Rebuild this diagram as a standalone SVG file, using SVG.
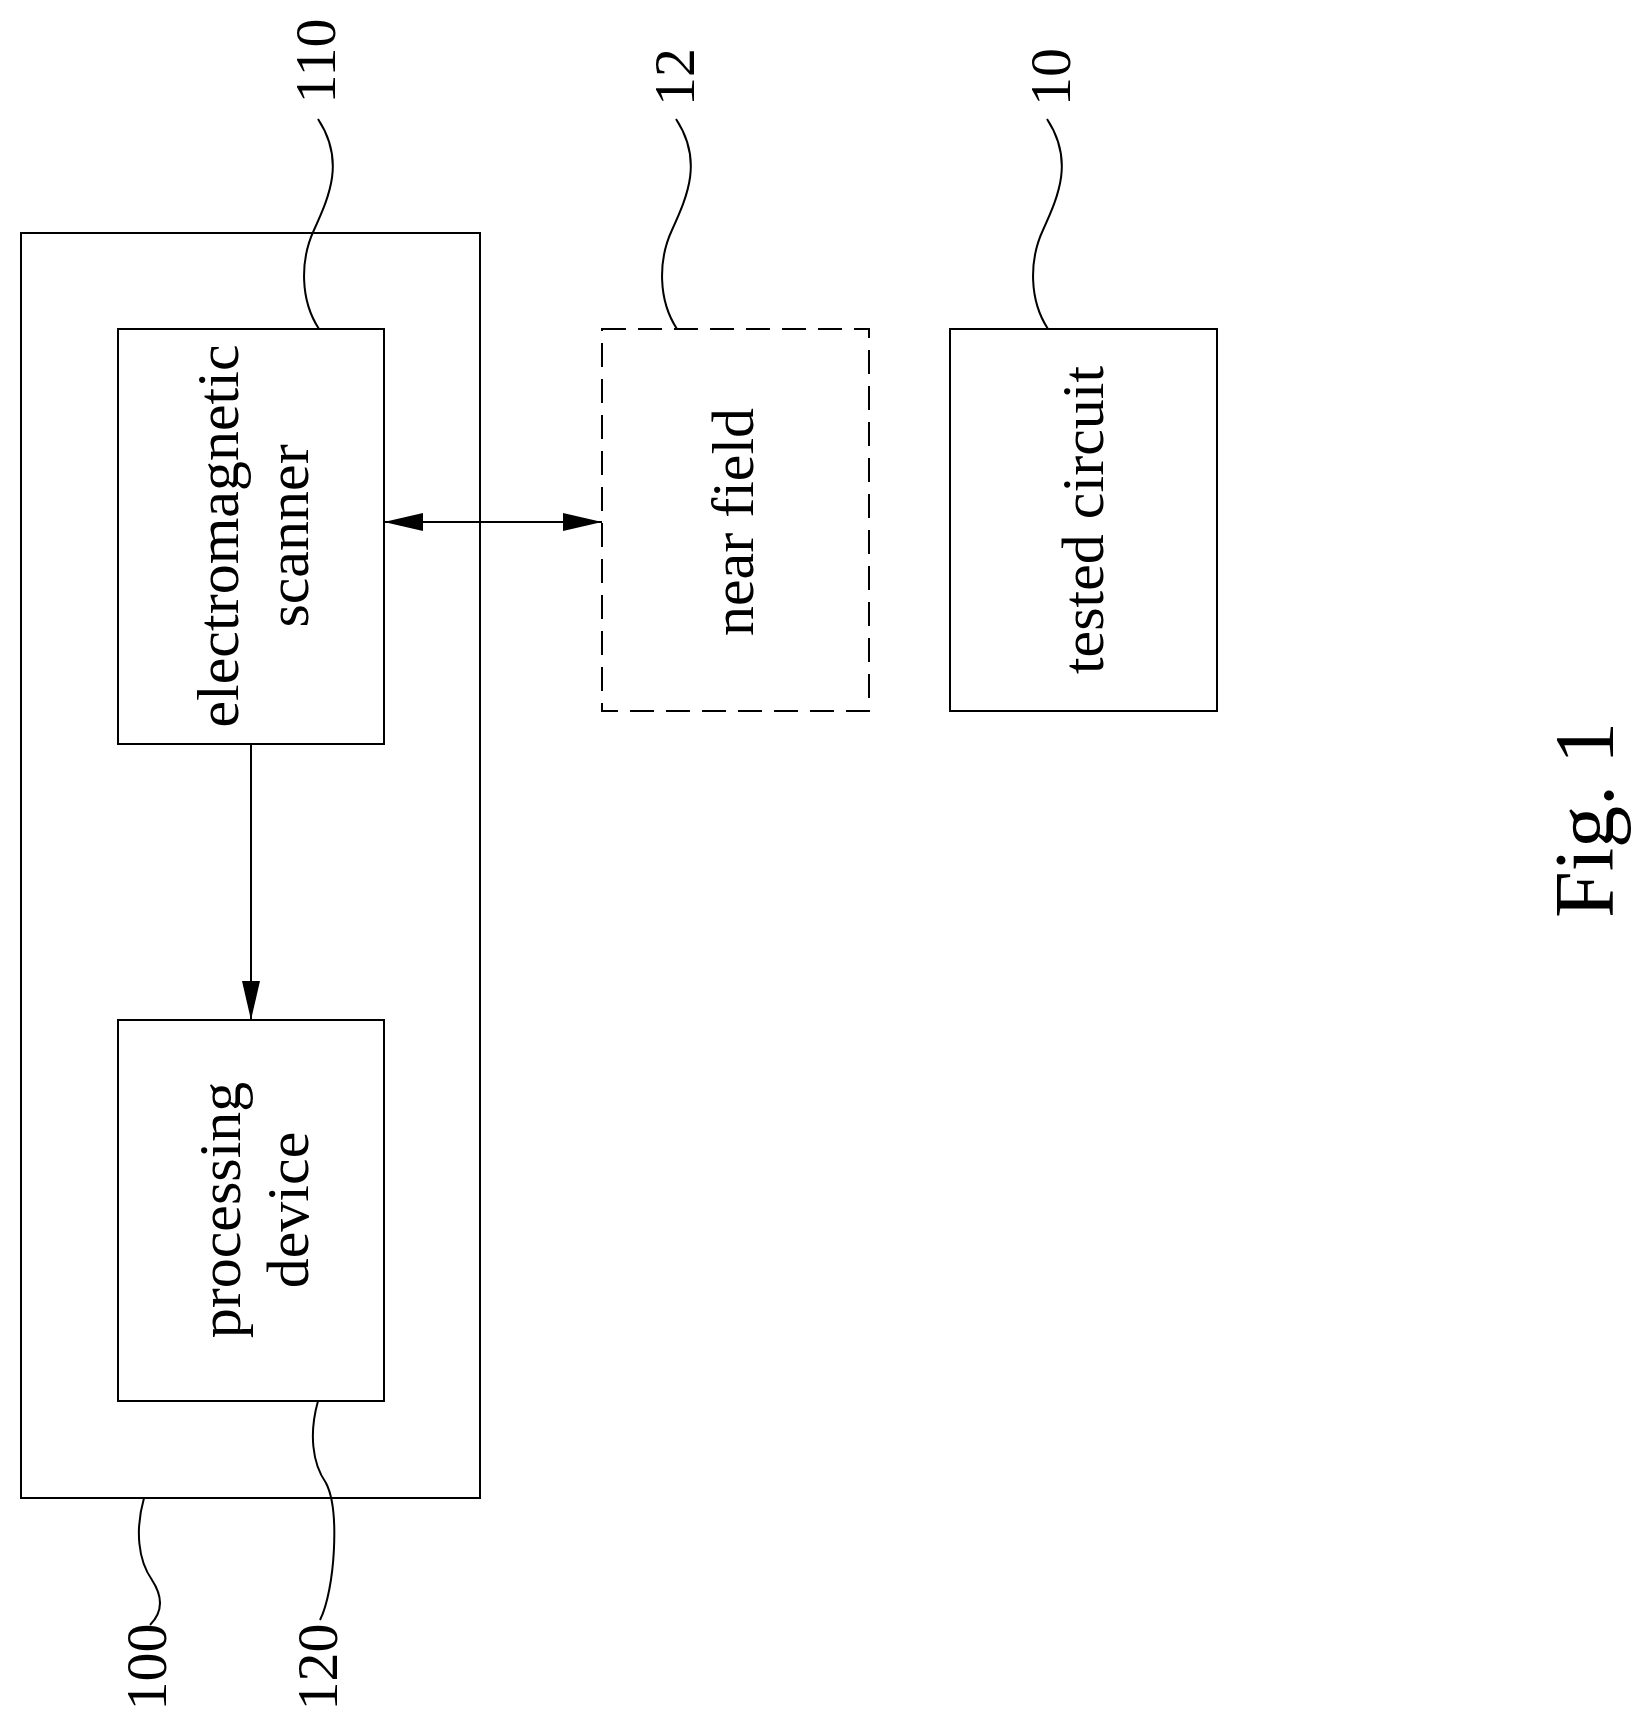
<svg xmlns="http://www.w3.org/2000/svg" width="1640" height="1733" viewBox="0 0 1640 1733">
<style>
.box{fill:none;stroke:#000;stroke-width:2}
.dash{stroke-dasharray:24 12}
.t{font-family:"Liberation Serif",serif;font-size:60px;text-anchor:middle;fill:#000}
.n{font-family:"Liberation Serif",serif;font-size:58px;text-anchor:middle;fill:#000}
.ld{fill:none;stroke:#000;stroke-width:2}
</style>
<defs>
<marker id="ah" markerWidth="40" markerHeight="20" refX="39" refY="9" orient="auto-start-reverse" markerUnits="userSpaceOnUse">
<path d="M0,0 L39,9 L0,18 Z" fill="#000"/>
</marker>
</defs>
<rect width="1640" height="1733" fill="#fff"/>
<g id="system100"><rect class="box" x="21" y="233" width="459" height="1265"/></g>
<g id="scanner110"><rect class="box" x="118" y="329" width="266" height="415"/>
<text class="t" transform="translate(238,536) rotate(-90)">electromagnetic</text>
<text class="t" transform="translate(308,536) rotate(-90)">scanner</text></g>
<g id="processing120"><rect class="box" x="118" y="1020" width="266" height="381"/>
<text class="t" transform="translate(240,1210) rotate(-90)">processing</text>
<text class="t" transform="translate(308,1210) rotate(-90)">device</text></g>
<g id="nearfield12"><rect class="box dash" x="602" y="329" width="267" height="382"/>
<text class="t" transform="translate(753,522) rotate(-90)">near field</text></g>
<g id="tested10"><rect class="box" x="950" y="329" width="267" height="382"/>
<text class="t" transform="translate(1103,520) rotate(-90)">tested circuit</text></g>
<g id="connectors">
<line class="ld" x1="384" y1="522" x2="602" y2="522" marker-start="url(#ah)" marker-end="url(#ah)"/>
<line class="ld" x1="251" y1="744" x2="251" y2="1020" marker-end="url(#ah)"/>
</g>
<g id="leaders">
<path class="ld" d="M319,329 C300,300 300,260 314,230 C330,195 345,160 318,119"/>
<path class="ld" d="M677,329 C658,300 658,260 672,230 C688,195 703,160 676,119"/>
<path class="ld" d="M1048,329 C1029,300 1029,260 1043,230 C1059,195 1074,160 1047,119"/>
<path class="ld" d="M144,1498 C135,1530 138,1560 152,1580 C165,1600 160,1615 150,1625"/>
<path class="ld" d="M318,1401 C309,1433 312,1463 326,1483 C340,1510 335,1590 320,1620"/>
</g>
<g id="labels">
<text class="n" transform="translate(335,61) rotate(-90)">110</text>
<text class="n" transform="translate(694,77) rotate(-90)">12</text>
<text class="n" transform="translate(1070,77) rotate(-90)">10</text>
<text class="n" transform="translate(166,1667) rotate(-90)">100</text>
<text class="n" transform="translate(337,1667) rotate(-90)">120</text>
<text class="t" style="font-size:84px" transform="translate(1613,820) rotate(-90)">Fig. 1</text>
</g>
</svg>
